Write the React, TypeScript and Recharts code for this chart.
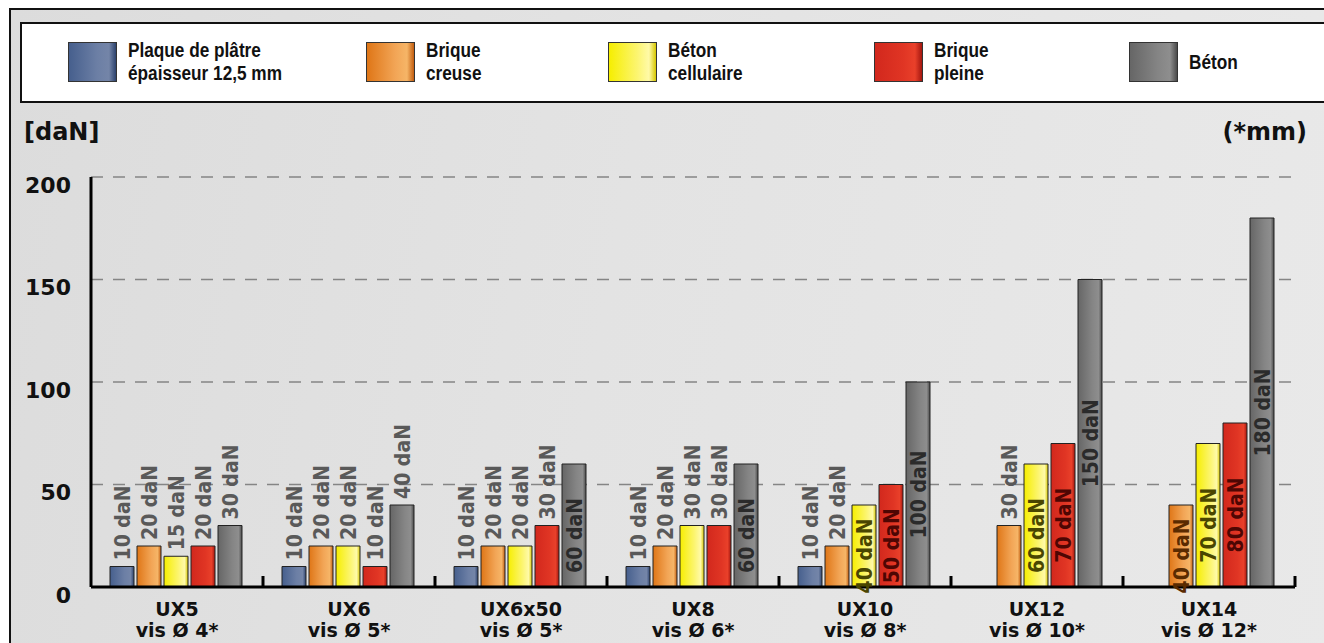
import React from 'react';
import { BarChart, Bar, XAxis, YAxis, CartesianGrid, Legend, LabelList } from 'recharts';

const categories = ['UX5', 'UX6', 'UX6x50', 'UX8', 'UX10', 'UX12', 'UX14'];
const screwSizes = ['vis Ø 4*', 'vis Ø 5*', 'vis Ø 5*', 'vis Ø 6*', 'vis Ø 8*', 'vis Ø 10*', 'vis Ø 12*'];
const plaquePlatre = [10, 10, 10, 10, 10, null, null];
const briqueCreuse = [20, 20, 20, 20, 20, 30, 40];
const betonCellulaire = [15, 20, 20, 30, 40, 60, 70];
const briquePleine = [20, 10, 30, 30, 50, 70, 80];
const beton = [30, 40, 60, 60, 100, 150, 180];
const yTicks = [0, 50, 100, 150, 200];

const seriesKeys = ['plaquePlatre', 'briqueCreuse', 'betonCellulaire', 'briquePleine', 'beton'];
const seriesValues = [plaquePlatre, briqueCreuse, betonCellulaire, briquePleine, beton];
const legendLabels = [
  ['Plaque de plâtre', 'épaisseur 12,5 mm'],
  ['Brique', 'creuse'],
  ['Béton', 'cellulaire'],
  ['Brique', 'pleine'],
  ['Béton'],
];
// categories whose value label is written inside the bar
const labelsInside: Record<string, string[]> = {
  plaquePlatre: [],
  briqueCreuse: ['UX14'],
  betonCellulaire: ['UX10', 'UX12', 'UX14'],
  briquePleine: ['UX10', 'UX12', 'UX14'],
  beton: ['UX6x50', 'UX8', 'UX10', 'UX12', 'UX14'],
};

// styles
const gradients = [
  { id: 'g0', stops: ['#465f8d', '#6c7fa5', '#7485a8', '#2c426d'] },
  { id: 'g1', stops: ['#df7617', '#f2a556', '#f6b567', '#c25d0f'] },
  { id: 'g2', stops: ['#f6ee00', '#fcf570', '#fffaa8', '#d6c600'] },
  { id: 'g3', stops: ['#d2281d', '#e03524', '#e9402a', '#a3160f'] },
  { id: 'g4', stops: ['#666666', '#858585', '#8e8e8e', '#4a4a4a'] },
];
const insideLabelColors = ['#1e2a44', '#5a2b00', '#4a4600', '#4e0603', '#2b2b2b'];
const legendLeft = [68, 366, 608, 874, 1129];
const W = 1324;
const H = 643;
const X_AXIS_H = 30;
const MARGIN = { top: 177, right: 29, bottom: 56 - X_AXIS_H, left: 0 };
const Y_AXIS_W = 91;
const PLOT_W = W - MARGIN.left - MARGIN.right - Y_AXIS_W;
const LABEL_FONT = '"DejaVu Sans Condensed", "DejaVu Sans", sans-serif';
const BOLD_FONT = '"DejaVu Sans", Verdana, sans-serif';
const NARROW_FONT = '"Liberation Sans", Arial, sans-serif';

const rows = categories.map((c, i) => {
  const r: Record<string, any> = { category: c };
  seriesKeys.forEach((k, s) => {
    r[k] = seriesValues[s][i];
  });
  return r;
});

const YTick = (props: any) => {
  const { x, y, payload } = props;
  return (
    <text x={x} y={y + 8} dy="0.36em" textAnchor="end" fontFamily={BOLD_FONT} fontWeight="bold" fontSize={22} fill="#111">
      {payload.value}
    </text>
  );
};

const XTick = (props: any) => {
  const { x, y, payload } = props;
  const idx = payload.index ?? categories.indexOf(payload.value);
  const half = payload.offset && payload.offset > 0 ? payload.offset : PLOT_W / categories.length / 2;
  return (
    <g>
      <line x1={x + half} x2={x + half} y1={y - 11} y2={y} stroke="#000" strokeWidth={3} />
      <text x={x} y={y + 29} textAnchor="middle" fontFamily={BOLD_FONT} fontWeight="bold" fontSize={19} fill="#111">
        {payload.value}
      </text>
      <text x={x} y={y + 50} textAnchor="middle" fontFamily={BOLD_FONT} fontWeight="bold" fontSize={19} fill="#111">
        {screwSizes[idx]}
      </text>
    </g>
  );
};

const makeLabel = (s: number) => (props: any) => {
  const vb = props.viewBox || {};
  const x = Number(props.x ?? vb.x);
  let y = Number(props.y ?? vb.y);
  const width = Number(props.width ?? vb.width);
  let height = Number(props.height ?? vb.height);
  const value = props.value;
  if (value === null || value === undefined || isNaN(x)) return null;
  if (height < 0) {
    y = y + height;
    height = -height;
  }
  const idx = props.index;
  const inside = labelsInside[seriesKeys[s]].includes(categories[idx]);
  const cx = x + width / 2;
  const common = {
    fontFamily: LABEL_FONT,
    fontWeight: 'bold' as const,
    fontSize: 21,
  };
  if (inside) {
    const cy = y + height / 2 + 10;
    return (
      <text x={cx} y={cy} dy="0.36em" textAnchor="middle" transform={`rotate(-90 ${cx} ${cy})`} fill={insideLabelColors[s]} {...common}>
        {`${value} daN`}
      </text>
    );
  }
  const ty = y - 6;
  return (
    <text x={cx} y={ty} dy="0.36em" textAnchor="start" transform={`rotate(-90 ${cx} ${ty})`} fill="#595959" {...common}>
      {`${value} daN`}
    </text>
  );
};

const LegendContent = () => (
  <div
    style={{
      position: 'relative',
      width: W - 20,
      height: 77,
      background: '#fff',
      border: '2px solid #111',
      borderRight: 'none',
      boxSizing: 'content-box',
    }}
  >
    {legendLabels.map((lines, i) => (
      <div key={i} style={{ position: 'absolute', left: legendLeft[i] - 22, top: 18, height: 40, display: 'flex', alignItems: 'center' }}>
        <div
          style={{
            width: 47,
            height: 38,
            border: '1px solid #333',
            background: `linear-gradient(to right, ${gradients[i].stops[0]} 0%, ${gradients[i].stops[1]} 60%, ${gradients[i].stops[2]} 85%, ${gradients[i].stops[3]} 100%)`,
          }}
        />
        <div
          style={{
            marginLeft: 11,
            fontFamily: NARROW_FONT,
            fontWeight: 'bold',
            fontSize: 20,
            lineHeight: '23px',
            color: '#111',
            whiteSpace: 'nowrap',
            transform: 'scaleX(0.86)',
            transformOrigin: 'left center',
          }}
        >
          {lines.map((l, j) => (
            <div key={j}>{l}</div>
          ))}
        </div>
      </div>
    ))}
  </div>
);

export default function App() {
  return (
    <div style={{ position: 'absolute', left: 0, top: 0, width: W, height: H, overflow: 'hidden', background: '#fff' }}>
      <svg width={0} height={0} style={{ position: 'absolute' }}>
        <defs>
          {gradients.map((g) => (
            <linearGradient key={g.id} id={g.id} x1="0" y1="0" x2="1" y2="0">
              <stop offset="0%" stopColor={g.stops[0]} />
              <stop offset="60%" stopColor={g.stops[1]} />
              <stop offset="86%" stopColor={g.stops[2]} />
              <stop offset="100%" stopColor={g.stops[3]} />
            </linearGradient>
          ))}
        </defs>
      </svg>
      <div
        style={{
          position: 'absolute',
          left: 9,
          top: 8,
          width: W,
          height: H,
          borderLeft: '2px solid #111',
          borderTop: '2px solid #111',
          background: 'linear-gradient(100deg, #dcdcdc 0%, #e3e3e3 45%, #e9e9e9 100%)',
        }}
      />
      <div style={{ position: 'absolute', left: 24, top: 118, fontFamily: BOLD_FONT, fontWeight: 'bold', fontSize: 24, color: '#111' }}>[daN]</div>
      <div style={{ position: 'absolute', right: W - 1307, top: 118, fontFamily: BOLD_FONT, fontWeight: 'bold', fontSize: 24, color: '#111' }}>(*mm)</div>
      <div style={{ position: 'absolute', left: 0, top: 0 }}>
        <BarChart width={W} height={H} data={rows} margin={MARGIN} barCategoryGap={19} barGap={3}>
          <CartesianGrid vertical={false} stroke="#858585" strokeWidth={1.3} strokeDasharray="12 10" />
          <XAxis
            dataKey="category"
            height={X_AXIS_H}
            interval={0}
            tickLine={false}
            tickSize={0}
            tickMargin={0}
            axisLine={{ stroke: '#000', strokeWidth: 3 }}
            tick={(p: any) => <XTick {...p} />}
          />
          <YAxis
            width={Y_AXIS_W}
            domain={[0, 200]}
            ticks={yTicks}
            interval={0}
            tickLine={false}
            tickSize={0}
            tickMargin={20}
            axisLine={{ stroke: '#000', strokeWidth: 3 }}
            tick={(p: any) => <YTick {...p} />}
          />
          <Legend
            layout="horizontal"
            verticalAlign="middle"
            align="center"
            content={() => <LegendContent />}
            wrapperStyle={{ position: 'absolute', left: 20, top: 22, width: W - 20, height: 81 }}
          />
          {seriesKeys.map((k, s) => (
            <Bar
              key={k}
              dataKey={k}
              name={legendLabels[s].join(' ')}
              fill={`url(#${gradients[s].id})`}
              stroke="#222"
              strokeWidth={1}
              isAnimationActive={false}
            >
              <LabelList dataKey={k} content={makeLabel(s)} />
            </Bar>
          ))}
        </BarChart>
      </div>
    </div>
  );
}
